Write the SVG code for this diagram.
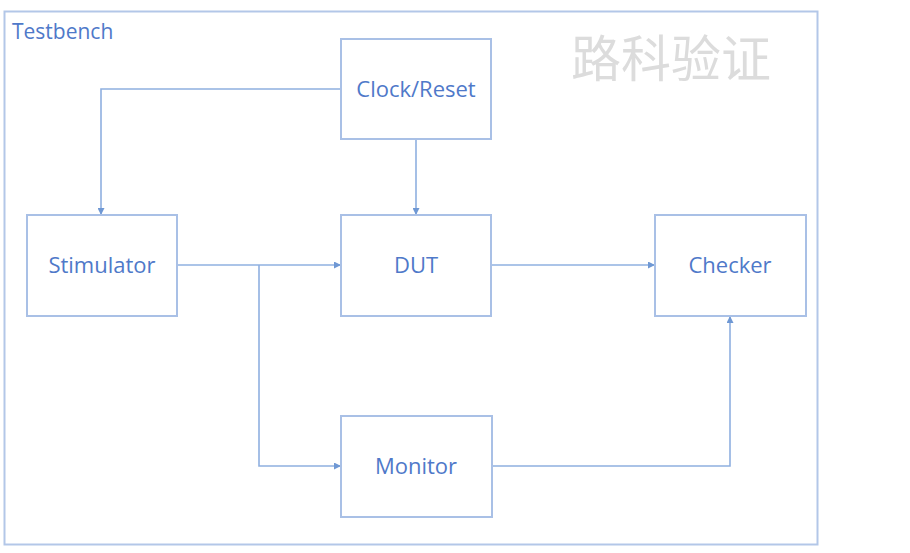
<svg xmlns="http://www.w3.org/2000/svg" width="910" height="553" viewBox="0 0 910 553">
<style>
.box{fill:#fff;stroke:#a9c0e6;stroke-width:2}
.lbl{font-family:"Open Sans","Noto Sans",sans-serif;font-size:22px;fill:#4f79c9;text-anchor:middle}
.ln{fill:none;stroke:#8fb0e0;stroke-width:1.6}
</style>
<defs>
<marker id="ah" viewBox="0 0 10 10" refX="10" refY="5" markerWidth="7" markerHeight="7" markerUnits="userSpaceOnUse" orient="auto">
<path d="M0,0 L10,5 L0,10 z" fill="#6f98d4"/>
</marker>
</defs>
<rect width="910" height="553" fill="#fff"/>
<g id="testbench">
<rect x="4.5" y="11.5" width="813" height="533" fill="none" stroke="#b3c7e8" stroke-width="2"/>
<text x="12" y="39" style="font-family:'Open Sans','Noto Sans',sans-serif;font-size:21px;fill:#4f79c9">Testbench</text>
</g>
<text x="671" y="77" text-anchor="middle" style="font-family:'Noto Sans CJK SC',sans-serif;font-size:50px;fill:#dcdcdc">路科验证</text>
<g id="connectors">
<path class="ln" d="M341,89 H101 V215" marker-end="url(#ah)"/>
<path class="ln" d="M416,139 V215" marker-end="url(#ah)"/>
<path class="ln" d="M177,265 H341" marker-end="url(#ah)"/>
<path class="ln" d="M259,265 V466 H341" marker-end="url(#ah)"/>
<path class="ln" d="M491,265 H655" marker-end="url(#ah)"/>
<path class="ln" d="M492,466 H730 V316" marker-end="url(#ah)"/>
</g>
<g id="clock"><rect class="box" x="341" y="39" width="150" height="100"/><text class="lbl" x="416" y="97">Clock/Reset</text></g>
<g id="stimulator"><rect class="box" x="27" y="215" width="150" height="101"/><text class="lbl" x="102" y="273">Stimulator</text></g>
<g id="dut"><rect class="box" x="341" y="215" width="150" height="101"/><text class="lbl" x="416" y="273">DUT</text></g>
<g id="checker"><rect class="box" x="655" y="215" width="151" height="101"/><text class="lbl" x="730" y="273">Checker</text></g>
<g id="monitor"><rect class="box" x="341" y="416" width="151" height="101"/><text class="lbl" x="416" y="474">Monitor</text></g>
</svg>
